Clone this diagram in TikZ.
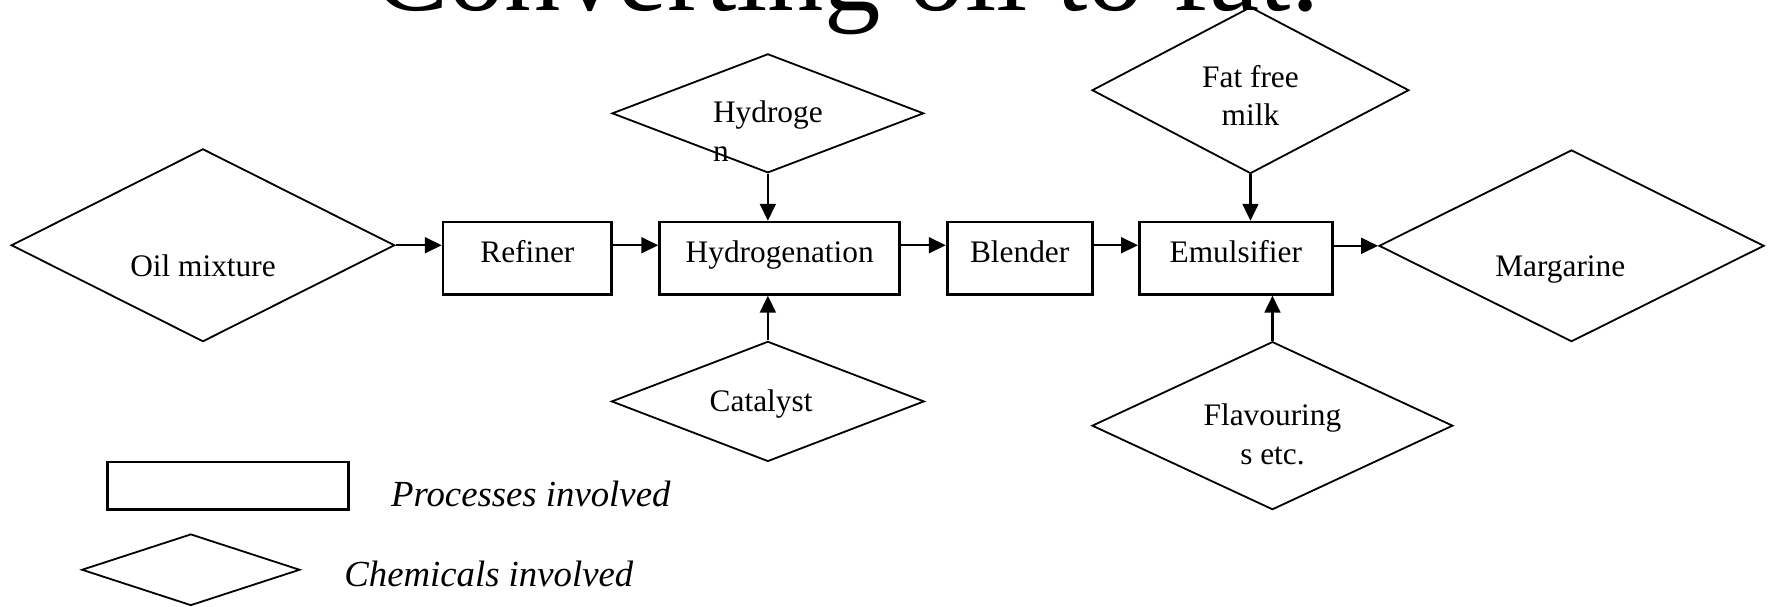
\documentclass[tikz,border=0pt]{standalone}
\usepackage{fontspec}
\setmainfont{Liberation Serif}
\usepackage{tikz}
\usetikzlibrary{shapes.geometric,arrows.meta}
\newcommand{\dtext}[4]{\hspace*{#1}\raisebox{#2}[0pt][0pt]{\begin{tabular}[t]{@{}#3@{}}#4\end{tabular}}}

\begin{document}
\begin{tikzpicture}[x=0.5pt,y=-0.5pt,
  proc/.style={draw,line width=1.2pt,minimum height=32pt,inner sep=0pt,text height=9pt,text depth=5.5pt,font=\fontsize{13.9pt}{17pt}\selectfont},
  chem/.style={diamond,draw,line width=0.8pt,inner sep=0pt,aspect=2,font=\fontsize{13.9pt}{17pt}\selectfont},
  flow/.style={-{Triangle[length=7.5pt,width=7pt]},line width=1pt},
  legtxt/.style={anchor=base west,inner sep=0pt,font=\fontsize{16.3pt}{19pt}\selectfont\itshape}]
\useasboundingbox (0,0) rectangle (1568,538);
% ---- title (top cut off) ----
\node[anchor=base,inner sep=0pt,font=\fontsize{50pt}{60pt}\selectfont] (title) at (750.5,9) {Converting oil to fat.};
% ---- main line ----
\node[chem,minimum width=170pt,minimum height=85.5pt] (oil) at (180,217.5) {\dtext{0pt}{-13.75pt}{c}{Oil mixture}};
\node[proc,minimum width=74.75pt] (refiner) at (467.75,229) {Refiner};
\node[proc,minimum width=106.5pt] (hydrog) at (691.5,229) {Hydrogenation};
\node[proc,minimum width=64.3pt] (blender) at (904.3,229) {Blender};
\node[proc,minimum width=85.5pt] (emuls) at (1096,229) {Emulsifier};
\node[chem,minimum width=170.75pt,minimum height=85pt] (marg) at (1393.75,218) {\dtext{-10pt}{-13.7pt}{c}{Margarine}};
% ---- inputs ----
\node[chem,minimum width=138.2pt,minimum height=52.75pt] (htwo) at (681,100.5) {\dtext{0pt}{-4.25pt}{l}{Hydroge\\n}};
\node[chem,minimum width=138.7pt,minimum height=53.25pt] (cat) at (681,356) {\dtext{-6pt}{-4.5pt}{c}{Catalyst}};
\node[chem,minimum width=140.5pt,minimum height=73.9pt] (milk) at (1109,80) {\dtext{0pt}{1.25pt}{c}{Fat free\\milk}};
\node[chem,minimum width=160pt,minimum height=74.5pt] (flav) at (1128.5,377.5) {\dtext{0pt}{0pt}{c}{Flavouring\\s etc.}};
% ---- arrows ----
\draw[flow] (oil.east) -- (oil.east -| refiner.west);
\draw[flow] (refiner.east |- oil.east) -- (hydrog.west |- oil.east);
\draw[flow] (hydrog.east |- oil.east) -- (blender.west |- oil.east);
\draw[flow] (blender.east |- oil.east) -- (emuls.west |- oil.east);
\draw[flow] (emuls.east |- marg.west) -- (marg.west);
\draw[flow] (htwo.south) -- (htwo.south |- hydrog.north);
\draw[flow] (cat.north) -- (cat.north |- hydrog.south);
\draw[flow] (milk.south) -- (milk.south |- emuls.north);
\draw[flow] (flav.north) -- (flav.north |- emuls.south);
% ---- legend ----
\node[draw,line width=1.2pt,minimum width=106.7pt,minimum height=21.1pt,inner sep=0pt] (lgproc) at (202.1,430.9) {};
\node[legtxt] (lgproctxt) at (346.5,449) {Processes involved};
\node[chem,minimum width=96.75pt,minimum height=31.7pt] (lgchem) at (169.25,505.3) {};
\node[legtxt] (lgchemtxt) at (305,520) {Chemicals involved};
\end{tikzpicture}
\end{document}
